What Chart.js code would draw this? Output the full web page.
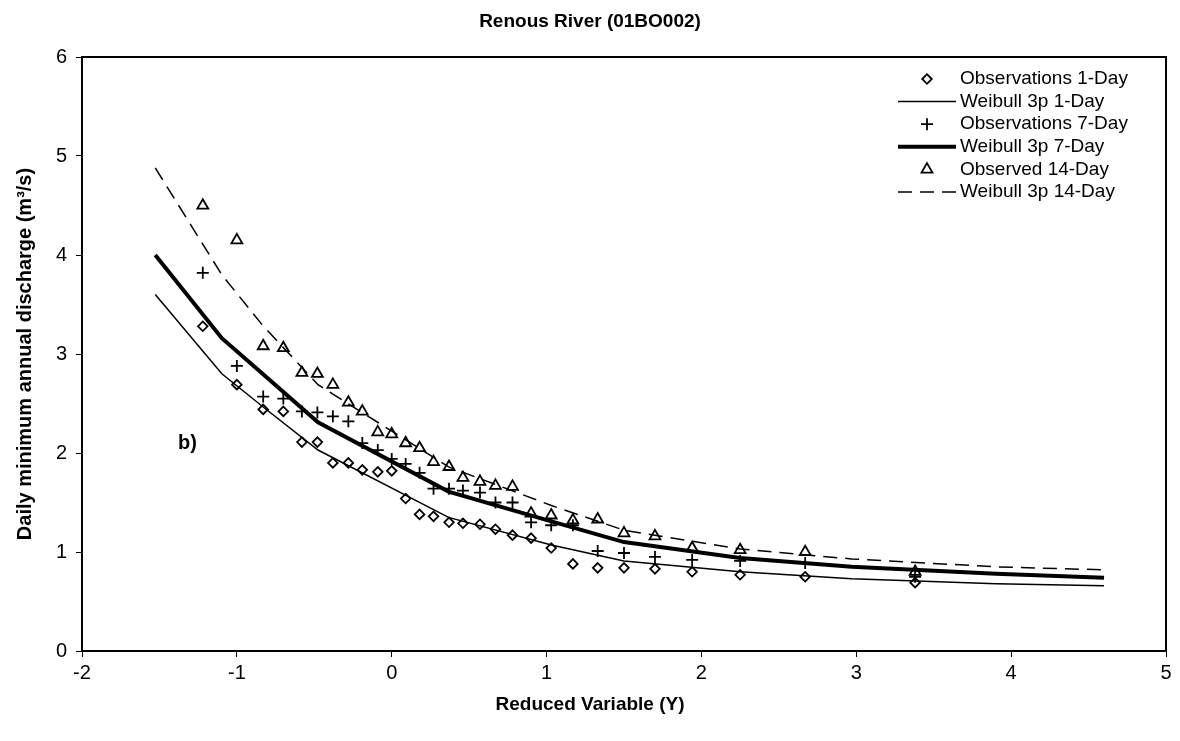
<!DOCTYPE html>
<html>
<head>
<meta charset="utf-8">
<script src="https://cdn.jsdelivr.net/npm/chart.js@4/dist/chart.umd.min.js"></script>
<style>
  html, body { margin: 0; padding: 0; background: #fff; }
  #wrap { width: 1180px; height: 741px; }
</style>
</head>
<body>
<div id="wrap"><canvas id="chart"></canvas></div>
<script>
// reduced variable of each ranked observation
const obsX = [-1.22, -1.00, -0.83, -0.70, -0.58, -0.48, -0.38, -0.28, -0.19, -0.09, 0.00, 0.09, 0.18, 0.27, 0.37,
              0.46, 0.57, 0.67, 0.78, 0.90, 1.03, 1.17, 1.33, 1.50, 1.70, 1.94, 2.25, 2.67, 3.38];
const obs1Day = [3.28, 2.69, 2.44, 2.42, 2.11, 2.11, 1.90, 1.90, 1.83, 1.81, 1.82, 1.54, 1.38, 1.36, 1.30,
                 1.29, 1.28, 1.23, 1.17, 1.14, 1.04, 0.88, 0.84, 0.84, 0.83, 0.80, 0.77, 0.75, 0.69];
const obs7Day = [3.82, 2.88, 2.57, 2.55, 2.42, 2.41, 2.37, 2.32, 2.10, 2.03, 1.94, 1.89, 1.80, 1.64, 1.64,
                 1.62, 1.60, 1.50, 1.50, 1.30, 1.27, 1.27, 1.01, 0.99, 0.95, 0.92, 0.91, 0.89, 0.75];
const obs14Day = [4.50, 4.15, 3.08, 3.06, 2.81, 2.80, 2.69, 2.51, 2.42, 2.21, 2.19, 2.10, 2.05, 1.91, 1.86,
                  1.75, 1.71, 1.67, 1.66, 1.39, 1.37, 1.32, 1.33, 1.19, 1.16, 1.04, 1.02, 1.00, 0.80];

// fitted Weibull 3p curves
const fitX = [-1.527, -1.097, -0.834, -0.476, 0.367, 1.031, 1.500, 2.250, 2.970, 3.902, 4.600];
const weib1Day = [3.60, 2.80, 2.47, 2.03, 1.35, 1.07, 0.91, 0.80, 0.73, 0.68, 0.66];
const weib7Day = [4.00, 3.16, 2.80, 2.31, 1.61, 1.31, 1.10, 0.94, 0.85, 0.78, 0.74];
const weib14Day = [4.88, 3.80, 3.29, 2.69, 1.86, 1.47, 1.22, 1.03, 0.93, 0.85, 0.82];

const xTicks = [-2, -1, 0, 1, 2, 3, 4, 5];
const yTicks = [0, 1, 2, 3, 4, 5, 6];

const seriesNames = ['Observations 1-Day', 'Weibull 3p 1-Day', 'Observations 7-Day',
                     'Weibull 3p 7-Day', 'Observed 14-Day', 'Weibull 3p 14-Day'];
const chartTitle = 'Renous River (01BO002)';
const xTitle = 'Reduced Variable (Y)';
const yTitle = 'Daily minimum annual discharge (m\u00b3/s)';

const FONT = 'Arial, "Liberation Sans", sans-serif';

function pts(xs, ys) {
    return xs.map((x, i) => ({ x: x, y: ys[i] }));
}

function markerSet(label, ys, style, r) {
    return {
        label: label, data: pts(obsX, ys), showLine: false,
        pointStyle: style, pointRadius: r, pointHoverRadius: r,
        pointBorderColor: '#000', pointBackgroundColor: 'rgba(0,0,0,0)', pointBorderWidth: 1.8
    };
}

function lineSet(label, ys, width, dash) {
    return {
        label: label, data: pts(fitX, ys), showLine: true,
        borderColor: '#000', borderWidth: width, borderDash: dash, pointRadius: 0,
        tension: 0, fill: false
    };
}

// titles, legend in the top right corner, the "b)" tag and the plot frame
const extras = {
    id: 'extras',
    afterDraw(chart) {
        const ctx = chart.ctx;
        const a = chart.chartArea;
        ctx.save();
        ctx.strokeStyle = '#000';
        ctx.lineWidth = 2;
        ctx.setLineDash([]);
        ctx.strokeRect(a.left, a.top, a.right - a.left, a.bottom - a.top);

        ctx.fillStyle = '#000';
        ctx.textBaseline = 'middle';
        ctx.textAlign = 'center';
        ctx.font = 'bold 19px ' + FONT;
        ctx.fillText(chartTitle, 590, 22);
        ctx.font = 'bold 19px ' + FONT;
        ctx.fillText(xTitle, 590, 705);

        ctx.textAlign = 'left';
        ctx.font = '19px ' + FONT;
        chart.data.datasets.forEach((ds, i) => {
            const y = 79 + i * 22.6;
            ctx.strokeStyle = '#000';
            if (ds.showLine) {
                ctx.lineWidth = ds.borderWidth;
                ctx.setLineDash(ds.borderDash || []);
                ctx.beginPath();
                ctx.moveTo(898, y);
                ctx.lineTo(956, y);
                ctx.stroke();
            } else {
                const cx = 927, r = ds.pointRadius;
                ctx.lineWidth = ds.pointBorderWidth;
                ctx.setLineDash([]);
                ctx.beginPath();
                if (ds.pointStyle === 'rectRot') {
                    ctx.moveTo(cx, y - r); ctx.lineTo(cx + r, y); ctx.lineTo(cx, y + r); ctx.lineTo(cx - r, y);
                    ctx.closePath();
                } else if (ds.pointStyle === 'cross') {
                    ctx.moveTo(cx - r, y); ctx.lineTo(cx + r, y); ctx.moveTo(cx, y - r); ctx.lineTo(cx, y + r);
                } else {
                    const h = r * Math.sqrt(3) / 2;
                    ctx.moveTo(cx, y - r); ctx.lineTo(cx + h, y + r / 2); ctx.lineTo(cx - h, y + r / 2);
                    ctx.closePath();
                }
                ctx.stroke();
            }
            ctx.setLineDash([]);
            ctx.fillText(ds.label, 960, y);
        });

        ctx.font = 'bold 20px ' + FONT;
        ctx.fillText('b)', 178, 443);
        ctx.restore();
    }
};

new Chart(document.getElementById('chart'), {
    type: 'scatter',
    data: {
        datasets: [
            markerSet(seriesNames[0], obs1Day, 'rectRot', 4.8),
            lineSet(seriesNames[1], weib1Day, 1.5, []),
            markerSet(seriesNames[2], obs7Day, 'cross', 6),
            lineSet(seriesNames[3], weib7Day, 4, []),
            markerSet(seriesNames[4], obs14Day, 'triangle', 6.3),
            lineSet(seriesNames[5], weib14Day, 1.5, [14, 8])
        ]
    },
    options: {
        responsive: true,
        maintainAspectRatio: false,
        animation: false,
        events: [],
        layout: { padding: { left: 0, right: 14, top: 57, bottom: 0 } },
        plugins: {
            legend: { display: false },
            tooltip: { enabled: false },
            title: { display: false }
        },
        scales: {
            x: {
                type: 'linear', min: -2, max: 5,
                afterFit(scale) { scale.height = 90; },
                afterBuildTicks(scale) { scale.ticks = xTicks.map(v => ({ value: v })); },
                grid: { drawOnChartArea: false, drawTicks: true, tickLength: 6, color: '#000', lineWidth: 1 },
                border: { display: true, color: '#000', width: 2 },
                ticks: { color: '#000', padding: 4, font: { family: FONT, size: 20 } }
            },
            y: {
                type: 'linear', min: 0, max: 6,
                afterFit(scale) { scale.width = 82; },
                afterBuildTicks(scale) { scale.ticks = yTicks.map(v => ({ value: v })); },
                grid: { drawOnChartArea: false, drawTicks: true, tickLength: 6, color: '#000', lineWidth: 1 },
                border: { display: true, color: '#000', width: 2 },
                ticks: { color: '#000', padding: 9, font: { family: FONT, size: 20 } },
                title: {
                    display: true, text: yTitle, color: '#000',
                    font: { family: FONT, size: 20, weight: 'bold' },
                    padding: { top: 13, bottom: 0 }
                }
            }
        }
    },
    plugins: [extras]
});
</script>
</body>
</html>
